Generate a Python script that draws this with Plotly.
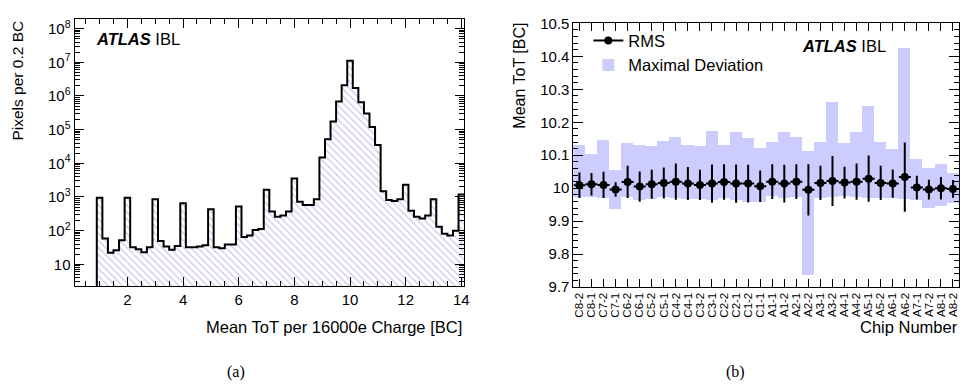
import plotly.graph_objects as go
import numpy as np

# ---------------- (a) histogram data ----------------
bin_width = 0.2
bin_centers = [round(1.0 + 0.2 * i, 1) for i in range(66)]
pixels = [950, 58, 22, 26, 52,
          950, 32, 28, 23, 32,
          850, 49, 34, 27, 35,
          650, 32, 32, 34, 37,
          435, 32, 30, 39, 39,
          520, 65, 72, 105, 112,
          1650, 370, 260, 280, 370,
          3550, 720, 580, 580, 850,
          14800, 52000, 174000, 690000, 2100000,
          11200000, 1730000, 650000, 300000, 120000,
          35000, 1480, 810, 760, 850,
          2300, 390, 260, 230, 280,
          850, 130, 81, 72, 100,
          1180]
log_ticks = [1, 2, 3, 4, 5, 6, 7, 8]
log_tick_text = ["10", "10<sup>2</sup>", "10<sup>3</sup>", "10<sup>4</sup>",
                 "10<sup>5</sup>", "10<sup>6</sup>", "10<sup>7</sup>", "10<sup>8</sup>"]

# ---------------- (b) chip data ----------------
chips = ["C8-2", "C8-1", "C7-2", "C7-1", "C6-2", "C6-1", "C5-2", "C5-1",
         "C4-2", "C4-1", "C3-2", "C3-1", "C2-2", "C2-1", "C1-2", "C1-1",
         "A1-1", "A1-2", "A2-1", "A2-2", "A3-1", "A3-2", "A4-1", "A4-2",
         "A5-1", "A5-2", "A6-1", "A6-2", "A7-1", "A7-2", "A8-1", "A8-2"]
mean_tot = [10.009, 10.012, 10.010, 9.996, 10.019, 10.005, 10.012, 10.016,
            10.020, 10.014, 10.010, 10.014, 10.019, 10.014, 10.014, 10.006,
            10.020, 10.014, 10.020, 9.995, 10.016, 10.022, 10.017, 10.020,
            10.029, 10.016, 10.014, 10.034, 10.002, 9.996, 10.000, 9.998]
rms = [0.039, 0.034, 0.040, 0.022, 0.049, 0.046, 0.044, 0.047,
       0.055, 0.050, 0.046, 0.058, 0.054, 0.058, 0.057, 0.048,
       0.053, 0.057, 0.053, 0.078, 0.052, 0.076, 0.048, 0.055,
       0.070, 0.052, 0.043, 0.105, 0.036, 0.030, 0.034, 0.027]
dev_max = [10.131, 10.102, 10.146, 10.055, 10.136, 10.129, 10.127, 10.142,
           10.153, 10.129, 10.127, 10.173, 10.131, 10.168, 10.151, 10.122,
           10.139, 10.170, 10.155, 10.112, 10.139, 10.260, 10.136, 10.168,
           10.248, 10.139, 10.119, 10.423, 10.087, 10.059, 10.072, 10.046]
dev_min = [9.973, 9.971, 9.970, 9.936, 9.971, 9.963, 9.966, 9.973,
           9.970, 9.966, 9.966, 9.963, 9.968, 9.963, 9.958, 9.958,
           9.976, 9.968, 9.972, 9.735, 9.970, 9.972, 9.975, 9.972,
           9.970, 9.968, 9.970, 9.966, 9.963, 9.939, 9.944, 9.955]

W, H = 968, 385
FONT = "Liberation Sans, Arial, Helvetica, sans-serif"

def px_x(p):
    return p / W

def px_y(p):
    return 1 - p / H

fig = go.Figure()

# ---- histogram (a) ----
y_range_log = [0.35, 8.3]
fig.add_trace(go.Bar(
    x=bin_centers, y=pixels, width=bin_width,
    marker=dict(color="white", line=dict(width=0),
                pattern=dict(shape="\\", fgcolor="#8f8fe0", bgcolor="white",
                             size=5, solidity=0.25)),
    xaxis="x", yaxis="y", showlegend=False, hoverinfo="skip"))

edges = [c - bin_width / 2 for c in bin_centers]
floor_val = 10 ** (y_range_log[0] - 1)
step_x = [edges[0]] + edges + [bin_centers[-1] + bin_width / 2]
step_y = [floor_val] + pixels + [pixels[-1]]
fig.add_trace(go.Scatter(
    x=step_x, y=step_y, mode="lines", line=dict(color="black", width=2, shape="hv"),
    xaxis="x", yaxis="y", showlegend=False, hoverinfo="skip"))

# ---- chip plot (b) ----
idx = list(range(len(chips)))
fig.add_trace(go.Bar(
    x=idx, y=[a - b for a, b in zip(dev_max, dev_min)], base=dev_min, width=1.0,
    marker=dict(color="#ccccff", line=dict(width=0)),
    name="Maximal Deviation", xaxis="x2", yaxis="y2", legendrank=2))
fig.add_trace(go.Scatter(
    x=idx, y=mean_tot, mode="markers",
    marker=dict(color="black", size=8),
    error_y=dict(type="data", array=rms, color="black", thickness=2, width=0),
    error_x=dict(type="constant", value=0.5, color="black", thickness=2, width=0),
    xaxis="x2", yaxis="y2", showlegend=False))
fig.add_trace(go.Scatter(
    x=[None], y=[None], mode="lines+markers", name="RMS",
    marker=dict(color="black", size=8), line=dict(color="black", width=2),
    xaxis="x2", yaxis="y2", legendrank=1))

axis_common = dict(showline=True, linecolor="black", linewidth=1, mirror="allticks",
                   ticks="inside", tickcolor="black", showgrid=False, zeroline=False,
                   tickfont=dict(family=FONT, size=15, color="black"))

minor_log = [m * 10 ** d for d in range(0, 9) for m in range(2, 10)]

fig.update_layout(
    width=W, height=H, margin=dict(l=0, r=0, t=0, b=0),
    paper_bgcolor="white", plot_bgcolor="white",
    barmode="overlay", bargap=0,
    font=dict(family=FONT, color="black"),
    xaxis=dict(domain=[px_x(75), px_x(467)], range=[0.1, 14.1], anchor="y",
               tickvals=[2, 4, 6, 8, 10, 12, 14], ticklen=9,
               minor=dict(ticks="inside", ticklen=5, dtick=0.5, tick0=0, tickcolor="black"),
               **axis_common),
    yaxis=dict(domain=[px_y(290), px_y(10)], type="log", range=y_range_log, anchor="x",
               tickvals=[10 ** v for v in log_ticks], ticktext=log_tick_text, ticklen=9,
               minor=dict(ticks="inside", ticklen=5, tickmode="array", tickvals=minor_log,
                          tickcolor="black"),
               **axis_common),
    xaxis2=dict(domain=[px_x(577), px_x(965)], range=[-0.5, 31.5], anchor="y2",
                tickvals=idx, ticktext=chips, tickangle=-90, ticklen=8,
                **{**axis_common, "tickfont": dict(family=FONT, size=11.5, color="black")}),
    yaxis2=dict(domain=[px_y(291), px_y(15)], range=[9.7, 10.5], anchor="x2",
                tickvals=[9.7, 9.8, 9.9, 10.0, 10.1, 10.2, 10.3, 10.4, 10.5],
                ticktext=["9.7", "9.8", "9.9", "10", "10.1", "10.2", "10.3", "10.4", "10.5"],
                ticklen=10,
                minor=dict(ticks="inside", ticklen=5, dtick=0.02, tick0=9.7, tickcolor="black"),
                **axis_common),
    legend=dict(x=px_x(592), y=px_y(15), xanchor="left", yanchor="top",
                bgcolor="rgba(0,0,0,0)", font=dict(family=FONT, size=16.5, color="black"),
                tracegroupgap=0, itemwidth=30),
)

annotations = [
    dict(text="Mean ToT per 16000e Charge [BC]", x=px_x(467), y=px_y(333),
         xanchor="right", yanchor="middle", font=dict(size=16.5)),
    dict(text="Pixels per 0.2 BC", x=px_x(18), y=px_y(75), textangle=-90,
         xanchor="center", yanchor="middle", font=dict(size=15.5)),
    dict(text="<b><i>ATLAS</i></b> IBL", x=px_x(95), y=px_y(31),
         xanchor="left", yanchor="middle", font=dict(size=16.5)),
    dict(text="Chip Number", x=px_x(966), y=px_y(333),
         xanchor="right", yanchor="middle", font=dict(size=16.5)),
    dict(text="Mean ToT [BC]", x=px_x(523), y=px_y(70), textangle=-90,
         xanchor="center", yanchor="middle", font=dict(size=16)),
    dict(text="<b><i>ATLAS</i></b> IBL", x=px_x(805), y=px_y(39),
         xanchor="left", yanchor="middle", font=dict(size=16.5)),
    dict(text="(a)", x=px_x(237), y=px_y(380), xanchor="center", yanchor="middle",
         font=dict(size=16, family="Liberation Serif, Times New Roman, serif")),
    dict(text="(b)", x=px_x(740), y=px_y(380), xanchor="center", yanchor="middle",
         font=dict(size=16, family="Liberation Serif, Times New Roman, serif")),
]
for a in annotations:
    a.update(xref="paper", yref="paper", showarrow=False)
    a["font"] = {"family": FONT, "color": "black", **a["font"]}
fig.update_layout(annotations=annotations)

fig.write_html(
    "out.html",
    config={"displayModeBar": False},
    post_script="document.body.style.margin='0';document.body.style.padding='0';"
                "document.body.style.overflow='hidden';"
                "document.documentElement.style.overflow='hidden';",
)
